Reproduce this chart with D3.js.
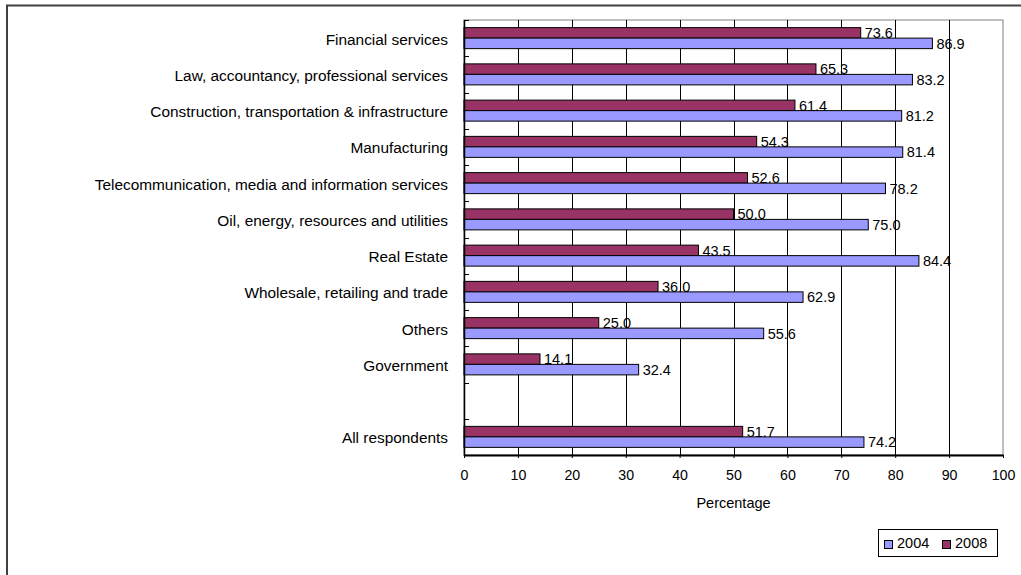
<!DOCTYPE html>
<html>
<head>
<meta charset="utf-8">
<script src="https://cdn.jsdelivr.net/npm/d3@7"></script>
<style>
  html, body { margin: 0; padding: 0; background: #fff; }
  svg { display: block; font-family: Arial, "Liberation Sans", sans-serif; }
</style>
</head>
<body>
<svg id="chart" width="1021" height="575"></svg>
<script>
// Sector labels, top to bottom ("All respondents" sits after a blank row)
const categories = [
  "Financial services",
  "Law, accountancy, professional services",
  "Construction, transportation & infrastructure",
  "Manufacturing",
  "Telecommunication, media and information services",
  "Oil, energy, resources and utilities",
  "Real Estate",
  "Wholesale, retailing and trade",
  "Others",
  "Government",
  "All respondents"
];
const values2004 = [86.9, 83.2, 81.2, 81.4, 78.2, 75.0, 84.4, 62.9, 55.6, 32.4, 74.2];
const values2008 = [73.6, 65.3, 61.4, 54.3, 52.6, 50.0, 43.5, 36.0, 25.0, 14.1, 51.7];
const seriesNames = ["2004", "2008"];
const xTicks = [0, 10, 20, 30, 40, 50, 60, 70, 80, 90, 100];

const colors = { "2004": "#9999FF", "2008": "#993366" };

const svg = d3.select("#chart");
const plot = { left: 464, right: 1003, top: 20, bottom: 455 };

// Row slots: a spacer row separates the overall figure from the sectors
const SPACER = "__spacer__";
const rowKeys = categories.slice(0, categories.length - 1)
  .concat([SPACER, categories[categories.length - 1]]);

const x = d3.scaleLinear().domain([0, 100]).range([plot.left, plot.right]);
const y = d3.scaleBand().domain(rowKeys).range([plot.top, plot.bottom]).padding(0);
// 2008 bar on top, 2004 bar beneath it within each row
const ySub = d3.scaleBand().domain(["2008", "2004"]).range([0, y.bandwidth()])
  .paddingInner(0).paddingOuter(0.726);

const rows = categories.map((c, i) => ({ cat: c, "2004": values2004[i], "2008": values2008[i] }));

// Outer frame
svg.append("line").attr("x1", 6).attr("x2", 1021).attr("y1", 5.5).attr("y2", 5.5)
  .attr("stroke", "#404040").attr("stroke-width", 2);
svg.append("line").attr("x1", 7).attr("x2", 7).attr("y1", 5).attr("y2", 575)
  .attr("stroke", "#404040").attr("stroke-width", 2);

// Plot area border (top/right grey)
svg.append("rect")
  .attr("x", plot.left).attr("y", plot.top)
  .attr("width", plot.right - plot.left).attr("height", plot.bottom - plot.top)
  .attr("fill", "#fff").attr("stroke", "#808080").attr("stroke-width", 1);

// Vertical gridlines
svg.append("g").selectAll("line")
  .data(xTicks.filter(t => t > 0 && t < 100))
  .join("line")
  .attr("x1", d => Math.round(x(d)) + 0.5).attr("x2", d => Math.round(x(d)) + 0.5)
  .attr("y1", plot.top).attr("y2", plot.bottom)
  .attr("stroke", "#000").attr("stroke-width", 1);

// Bars
const groups = svg.append("g").selectAll("g")
  .data(rows)
  .join("g")
  .attr("transform", d => `translate(0,${y(d.cat)})`);

groups.selectAll("rect")
  .data(d => ["2008", "2004"].map(s => ({ s, v: d[s] })))
  .join("rect")
  .attr("x", x(0))
  .attr("y", d => ySub(d.s))
  .attr("width", d => x(d.v) - x(0))
  .attr("height", ySub.bandwidth())
  .attr("fill", d => colors[d.s])
  .attr("stroke", "#000").attr("stroke-width", 1);

groups.selectAll("text")
  .data(d => ["2008", "2004"].map(s => ({ s, v: d[s] })))
  .join("text")
  .attr("x", d => x(d.v) + 4)
  .attr("y", d => ySub(d.s) + ySub.bandwidth() / 2)
  .attr("dy", "0.36em")
  .attr("font-size", 14.5)
  .attr("fill", "#000")
  .text(d => d.v.toFixed(1));

// Left axis (category), ticks at row boundaries pointing inward
const leftAxis = svg.append("g");
leftAxis.append("line")
  .attr("x1", plot.left + 0.5).attr("x2", plot.left + 0.5)
  .attr("y1", plot.top).attr("y2", plot.bottom + 1)
  .attr("stroke", "#000").attr("stroke-width", 1.5);
const boundaries = rowKeys.map(k => y(k)).concat([plot.bottom]);
leftAxis.selectAll("line.tick")
  .data(boundaries)
  .join("line").attr("class", "tick")
  .attr("x1", plot.left).attr("x2", plot.left + 5)
  .attr("y1", d => Math.round(d) + 0.5).attr("y2", d => Math.round(d) + 0.5)
  .attr("stroke", "#000");
leftAxis.selectAll("text")
  .data(categories)
  .join("text")
  .attr("x", 448)
  .attr("y", d => y(d) + y.bandwidth() / 2 + 1)
  .attr("dy", "0.36em")
  .attr("text-anchor", "end")
  .attr("font-size", 15.4)
  .attr("fill", "#000")
  .text(d => d);

// Bottom axis
const xAxis = d3.axisBottom(x).tickValues(xTicks).tickSize(3).tickSizeOuter(0).tickPadding(12);
const gx = svg.append("g").attr("transform", `translate(0,${plot.bottom})`).call(xAxis);
gx.select(".domain").attr("stroke", "#000").attr("stroke-width", 2);
gx.selectAll(".tick line").attr("stroke", "#000");
gx.selectAll(".tick text")
  .attr("font-size", 14.2).attr("fill", "#000")
  .attr("font-family", "Arial, 'Liberation Sans', sans-serif");

svg.append("text")
  .attr("x", (plot.left + plot.right) / 2)
  .attr("y", 503)
  .attr("dy", "0.36em")
  .attr("text-anchor", "middle")
  .attr("font-size", 14.5)
  .text("Percentage");

// Legend
const legend = svg.append("g");
legend.append("rect")
  .attr("x", 878.5).attr("y", 529.5).attr("width", 119).attr("height", 27)
  .attr("fill", "#fff").attr("stroke", "#000");
const legendX = [884, 942];
seriesNames.forEach((s, i) => {
  legend.append("rect")
    .attr("x", legendX[i] + 0.5).attr("y", 540.5).attr("width", 8).attr("height", 8)
    .attr("fill", colors[s]).attr("stroke", "#000");
  legend.append("text")
    .attr("x", legendX[i] + 13).attr("y", 543)
    .attr("dy", "0.36em")
    .attr("font-size", 14.5)
    .text(s);
});
</script>
</body>
</html>
